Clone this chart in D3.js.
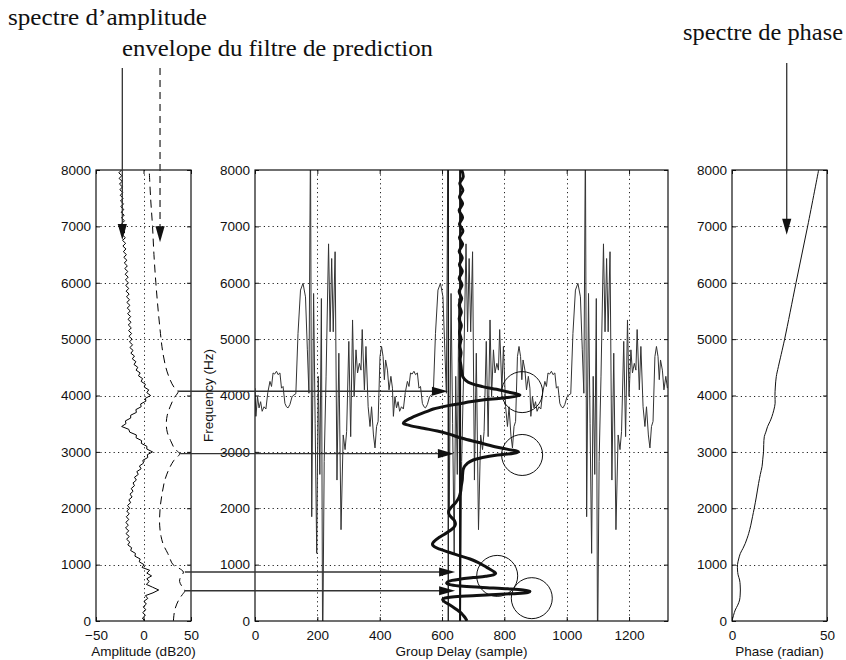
<!DOCTYPE html>
<html>
<head>
<meta charset="utf-8">
<script src="https://cdn.jsdelivr.net/npm/d3@7"></script>
<style>
  body { margin: 0; background: #fff; }
  svg { display: block; }
</style>
</head>
<body>
<svg id="fig" width="846" height="660"></svg>
<script>
// ---------- tick values ----------
const freqTicks  = [0, 1000, 2000, 3000, 4000, 5000, 6000, 7000, 8000];
const ampTicks   = [-50, 0, 50];
const delayTicks = [0, 200, 400, 600, 800, 1000, 1200];
const phaseTicks = [0, 50];

// ---------- amplitude spectrum (dB20), one value every 50 Hz from 0 to 8000 Hz ----------
const ampStepHz = 50;
const ampSpectrum = [
  1.5,-1.2,2,-0.8,2.5,-0.3,3,0.5,4.5,2,
  10,16,9.5,3,6,3.5,8.5,3.5,6.5,-1.5,
  0.5,-4.5,-3.5,-9,-8.5,-13.5,-12.5,-16.5,-14.5,-17.8,
  -15,-18.4,-15.5,-18.9,-16,-18.6,-15.5,-18.1,-15,-17.6,
  -14.5,-16.8,-13.5,-15.4,-12,-14.2,-11,-12.9,-9.5,-11,
  -7.5,-9.5,-5.5,-7,-2.5,-4.3,0,-0.7,4.5,4,
  9.5,3.5,3.5,-2.3,-2,-7.8,-7.5,-14.5,-15.5,-23,
  -18.5,-19,-13.5,-13.5,-7.5,-8,-2.5,-3,2.5,2,
  7.5,3.5,5.5,0.7,2,-2.5,-1,-5.3,-3.5,-7.8,
  -6,-10,-8,-11.8,-9.5,-13.3,-11,-14.3,-11.5,-14.8,
  -12,-15.3,-12.5,-15.7,-12.8,-16,-13.1,-16.3,-13.5,-16.7,
  -13.9,-17.1,-14.3,-17.5,-14.7,-17.9,-15.1,-18.3,-15.5,-18.7,
  -15.8,-19,-16.1,-19.3,-16.5,-19.7,-17,-20.2,-17.5,-20.7,
  -18,-21.2,-18.5,-21.7,-18.8,-22,-19.1,-22.3,-19.5,-22.6,
  -19.7,-22.9,-20,-23.2,-20.3,-23.5,-20.7,-23.9,-21,-24.2,
  -21.4,-24.5,-21.7,-24.9,-22.1,-25.3,-22.5,-25.7,-22.8,-26,
  -23.1
];

// ---------- prediction filter envelope (dB20) ----------
const envFreq = [0,100,200,300,400,470,537,600,700,780,869,950,1000,1100,1200,1350,1500,1700,2000,2250,2500,2700,2850,2968,3050,3200,3350,3500,3650,3800,3950,4075,4150,4300,4500,4800,5000,5500,6000,6500,7000,7500,8000];
const envDb   = [31.5,32,33,35,38,41,43.5,41,38,39,42,36,31,28,25.5,21,18.5,17,17.5,19.5,22.5,27,32,38,33,28.5,25,24,25,28,32,36.5,32,27.5,23.5,20,18.5,15.5,13,11,9.5,7.5,6];

// ---------- phase spectrum (radian) ----------
const phaseFreq = [0,100,195,280,373,460,550,640,727,820,905,1000,1100,1200,1290,1378,1470,1555,1700,1850,2000,2200,2442,2600,2737,2870,3000,3130,3270,3350,3447,3540,3625,3740,3862,4000,4150,4334,4510,5000,6000,7000,8000];
const phaseRad  = [0,0.8,1.7,3,4,4.3,4.4,4.3,4,3.2,2.9,2.9,3.5,4.4,5.8,7,8,8.8,9.9,10.8,11.7,12.8,14,14.9,15.8,16.2,16.6,16.7,17,17.8,18.7,20,21,22,22.7,22.6,22.8,23.3,24.4,27.7,33.7,39.8,45.6];

// ---------- speech waveform overlaid on the group-delay axis: one pitch cycle [sample, value] ----------
const waveCycle = [
  [0,4130],[3,3630],[8,3980],[13,3780],[18,3890],[23,3720],[29,3800],[35,3760],[41,4050],[48,4250],
  [53,4160],[58,4400],[63,4380],[69,4430],[74,4370],[80,4400],[85,4130],[90,4160],[96,3860],[101,3800],
  [106,3780],[112,3840],[119,3980],[125,4010],[131,4030],[138,5100],[146,5870],[154,5990],[162,5750],[168,4810],
  [173,4040],[178,8600],[182,1850],[188,5810],[193,3500],[198,1200],[203,4340],[208,2600],[213,5720],[217,-700],
  [222,2830],[228,4330],[236,6690],[241,5130],[246,6430],[251,5130],[257,6550],[263,2500],[269,4750],[276,1620],
  [283,3300],[289,3040],[294,3360],[301,4960],[307,3270],[313,5340],[318,3980],[324,4810],[329,4400],[335,4570],
  [340,4450],[344,5170],[351,4100],[356,4870],[363,3800],[369,3450],[374,3800],[380,3300],[385,3070],[390,3450],
  [395,3540],[401,4690],[406,4870],[411,4690],[415,4280],[419,4630],[425,4450],[430,4100],[436,4340],[441,4130]
];
const cycleStarts = [0, 441, 882];
const pulseMarks  = [620, 658];

// ---------- group delay of the prediction filter ----------
const gdFreq = [8000,7880,7760,7640,7520,7400,7280,7160,7040,6920,6800,6680,6560,6440,6320,6200,6080,5960,5840,5720,5600,5480,5360,5240,5120,5000,4880,4760,4640,4520,4420,4330,4270,4210,4157,4110,4068,4030,4008,3985,3955,3920,3890,3862,3820,3760,3714,3660,3600,3545,3507,3470,3418,3370,3320,3241,3170,3092,3040,3003,2975,2945,2900,2856,2800,2708,2600,2500,2400,2300,2200,2100,2020,1960,1900,1840,1780,1720,1660,1600,1540,1480,1420,1365,1318,1270,1220,1160,1100,1040,980,930,880,846,820,795,770,745,720,695,668,645,620,595,570,548,525,505,485,465,445,425,405,380,350,300,250,200,150,100,50,0];
const gdDelay = [663,668,657,667,656,666,655,666,656,667,656,666,655,665,656,665,655,664,655,663,655,662,655,662,656,661,657,661,658,661,663,667,676,695,730,775,808,838,850,835,795,730,690,665,620,572,550,525,500,482,476,495,540,585,620,665,715,770,815,845,830,778,730,700,682,669,666,665,662,660,655,644,630,622,622,630,640,643,638,625,608,590,576,569,575,595,622,655,690,715,735,750,765,772,765,740,700,660,632,618,615,625,660,730,810,860,882,875,825,755,680,632,608,602,606,620,635,648,660,668,675,680];

// ---------- formant markers ----------
const formantCircles = [
  { delay: 857, freq: 4060 },
  { delay: 857, freq: 2945 },
  { delay: 777, freq: 800 },
  { delay: 888, freq: 405 }
];
const formantArrows = [
  { freq: 4075, fromDb: 36.5, toDelay: 619 },
  { freq: 2968, fromDb: 38.5, toDelay: 638 },
  { freq: 869,  fromDb: 43.5, toDelay: 642 },
  { freq: 537,  fromDb: 43.5, toDelay: 642 }
];

// ---------- callouts ----------
const callouts = [
  { label: "spectre d\u2019amplitude",          panel: "amp",   value: -22.3, tipFreq: 6760, dashed: false, tx: 8,   ty: 25, width: 199 },
  { label: "envelope du filtre de prediction", panel: "amp",   value: 17.4,  tipFreq: 6720, dashed: true,  tx: 122, ty: 56, width: 311 },
  { label: "spectre de phase",                 panel: "phase", value: 28.8,  tipFreq: 6850, dashed: false, tx: 683, ty: 40, width: 160 }
];

// ---------- layout ----------
const TOP = 170, BOTTOM = 621;
const yF     = d3.scaleLinear().domain([0, 8000]).range([BOTTOM, TOP]);
const xAmp   = d3.scaleLinear().domain([-50, 50]).range([96, 191]);
const xDelay = d3.scaleLinear().domain([0, 1325]).range([255, 668]);
const xPhase = d3.scaleLinear().domain([0, 50]).range([732, 827]);

const SANS  = "'Liberation Sans', Arial, Helvetica, sans-serif";
const SERIF = "'Liberation Serif', 'Times New Roman', serif";
const INK = "#111";
const tickFmt = d3.format("d");

const svg = d3.select("#fig");
const defs = svg.append("defs");

function drawPanel(id, xS, xTicks, title) {
  const [x0, x1] = xS.range();
  const g = svg.append("g").attr("class", "panel-" + id);

  defs.append("clipPath").attr("id", "clip-" + id)
    .append("rect").attr("x", x0).attr("y", TOP).attr("width", x1 - x0).attr("height", BOTTOM - TOP);

  // dotted grid
  const grid = g.append("g").attr("stroke", "#222").attr("stroke-width", 1).attr("stroke-dasharray", "1.2,3.2");
  grid.selectAll("line.h").data(freqTicks.slice(1, -1)).join("line")
    .attr("x1", x0).attr("x2", x1)
    .attr("y1", d => Math.round(yF(d)) + 0.5).attr("y2", d => Math.round(yF(d)) + 0.5);
  grid.selectAll("line.v").data(xTicks.filter(t => xS(t) > x0 + 1 && xS(t) < x1 - 1)).join("line")
    .attr("y1", TOP).attr("y2", BOTTOM)
    .attr("x1", d => Math.round(xS(d)) + 0.5).attr("x2", d => Math.round(xS(d)) + 0.5);

  const plot = g.append("g").attr("clip-path", `url(#clip-${id})`);
  return { g, plot, x0, x1, xS, xTicks, title };
}

function finishPanel(p) {
  const { g, x0, x1, xS, xTicks, title } = p;
  const style = sel => {
    sel.select(".domain").remove();
    sel.selectAll("line").attr("stroke", INK);
    sel.selectAll("text").attr("font-family", SANS).attr("font-size", 13.5).attr("fill", INK);
  };
  g.append("g").attr("transform", `translate(${x0},0)`)
    .call(d3.axisLeft(yF).tickValues(freqTicks).tickFormat(tickFmt).tickSizeInner(-4).tickSizeOuter(0).tickPadding(5))
    .call(style);
  g.append("g").attr("transform", `translate(${x1},0)`)
    .call(d3.axisRight(yF).tickValues(freqTicks).tickFormat("").tickSizeInner(-4).tickSizeOuter(0))
    .call(style);
  g.append("g").attr("transform", `translate(0,${BOTTOM})`)
    .call(d3.axisBottom(xS).tickValues(xTicks).tickFormat(tickFmt).tickSizeInner(-4).tickSizeOuter(0).tickPadding(9))
    .call(style);
  g.append("g").attr("transform", `translate(0,${TOP})`)
    .call(d3.axisTop(xS).tickValues(xTicks).tickFormat("").tickSizeInner(-4).tickSizeOuter(0))
    .call(style);
  g.append("rect").attr("x", x0).attr("y", TOP).attr("width", x1 - x0).attr("height", BOTTOM - TOP)
    .attr("fill", "none").attr("stroke", INK).attr("stroke-width", 1.2);
  g.append("text").attr("x", (x0 + x1) / 2).attr("y", 656).attr("text-anchor", "middle")
    .attr("font-family", SANS).attr("font-size", 13.5).attr("fill", INK).text(title);
}

// ---------- amplitude panel ----------
const pAmp = drawPanel("amp", xAmp, ampTicks, "Amplitude (dB20)");
pAmp.plot.append("path")
  .datum(ampSpectrum)
  .attr("fill", "none").attr("stroke", "#000").attr("stroke-width", 1).attr("stroke-linejoin", "round")
  .attr("d", d3.line().x(d => xAmp(d)).y((d, i) => yF(i * ampStepHz)));
pAmp.plot.append("path")
  .datum(envFreq.map((f, i) => [f, envDb[i]]))
  .attr("fill", "none").attr("stroke", "#000").attr("stroke-width", 1).attr("stroke-dasharray", "8,5")
  .attr("d", d3.line().x(d => xAmp(d[1])).y(d => yF(d[0])).curve(d3.curveCatmullRom.alpha(0.5)));
finishPanel(pAmp);

// ---------- group delay panel ----------
const pGd = drawPanel("gd", xDelay, delayTicks, "Group Delay (sample)");
const wavePoints = cycleStarts.flatMap(o => waveCycle.map(([s, v]) => [o + s, v]));
pGd.plot.append("path")
  .datum(wavePoints)
  .attr("fill", "none").attr("stroke", "#333").attr("stroke-width", 1).attr("stroke-linejoin", "round")
  .attr("d", d3.line().x(d => xDelay(d[0])).y(d => yF(d[1])));
pGd.plot.selectAll("line.pulse").data(pulseMarks).join("line")
  .attr("x1", d => xDelay(d)).attr("x2", d => xDelay(d))
  .attr("y1", TOP).attr("y2", BOTTOM)
  .attr("stroke", "#111").attr("stroke-width", (d, i) => i ? 2 : 1.3);
pGd.plot.append("path")
  .datum(gdFreq.map((f, i) => [f, gdDelay[i]]))
  .attr("fill", "none").attr("stroke", "#111").attr("stroke-width", 3).attr("stroke-linejoin", "round")
  .attr("d", d3.line().x(d => xDelay(d[1])).y(d => yF(d[0])).curve(d3.curveCatmullRom.alpha(0.5)));
pGd.plot.selectAll("circle.formant").data(formantCircles).join("circle")
  .attr("cx", d => xDelay(d.delay)).attr("cy", d => yF(d.freq)).attr("r", 20.5)
  .attr("fill", "none").attr("stroke", "#111").attr("stroke-width", 1);
finishPanel(pGd);
svg.append("text")
  .attr("transform", `translate(213,${(TOP + BOTTOM) / 2}) rotate(-90)`)
  .attr("text-anchor", "middle").attr("font-family", SANS).attr("font-size", 13.5).attr("fill", INK)
  .text("Frequency (Hz)");

// ---------- phase panel ----------
const pPh = drawPanel("ph", xPhase, phaseTicks, "Phase (radian)");
pPh.plot.append("path")
  .datum(phaseFreq.map((f, i) => [f, phaseRad[i]]))
  .attr("fill", "none").attr("stroke", "#111").attr("stroke-width", 1)
  .attr("d", d3.line().x(d => xPhase(d[1])).y(d => yF(d[0])).curve(d3.curveCatmullRom.alpha(0.5)));
finishPanel(pPh);

// ---------- annotation arrows ----------
const ann = svg.append("g");
const HEAD_L = 16, HEAD_W = 4.6;
function headRight(x, y) {
  ann.append("path").attr("d", `M${x},${y}L${x - HEAD_L},${y - HEAD_W}L${x - HEAD_L},${y + HEAD_W}Z`).attr("fill", "#111");
}
function headDown(x, y) {
  ann.append("path").attr("d", `M${x},${y}L${x - HEAD_W},${y - HEAD_L}L${x + HEAD_W},${y - HEAD_L}Z`).attr("fill", "#111");
}

formantArrows.forEach(a => {
  const y = yF(a.freq), xs = xAmp(a.fromDb), xe = xDelay(a.toDelay);
  ann.append("line").attr("x1", xs).attr("x2", xe - 4).attr("y1", y).attr("y2", y)
    .attr("stroke", "#333").attr("stroke-width", 1.3);
  headRight(xe, y);
});

callouts.forEach(c => {
  const xs = c.panel === "amp" ? xAmp(c.value) : xPhase(c.value);
  const tip = yF(c.tipFreq);
  ann.append("text").attr("x", c.tx).attr("y", c.ty)
    .attr("font-family", SERIF).attr("font-size", 23).attr("fill", "#111")
    .attr("textLength", c.width).attr("lengthAdjust", "spacingAndGlyphs")
    .text(c.label);
  ann.append("line").attr("x1", xs).attr("x2", xs).attr("y1", c.panel === "phase" ? 63 : 68).attr("y2", tip - 4)
    .attr("stroke", "#333").attr("stroke-width", 1.3)
    .attr("stroke-dasharray", c.dashed ? "7,5" : null);
  headDown(xs, tip);
});
</script>
</body>
</html>
